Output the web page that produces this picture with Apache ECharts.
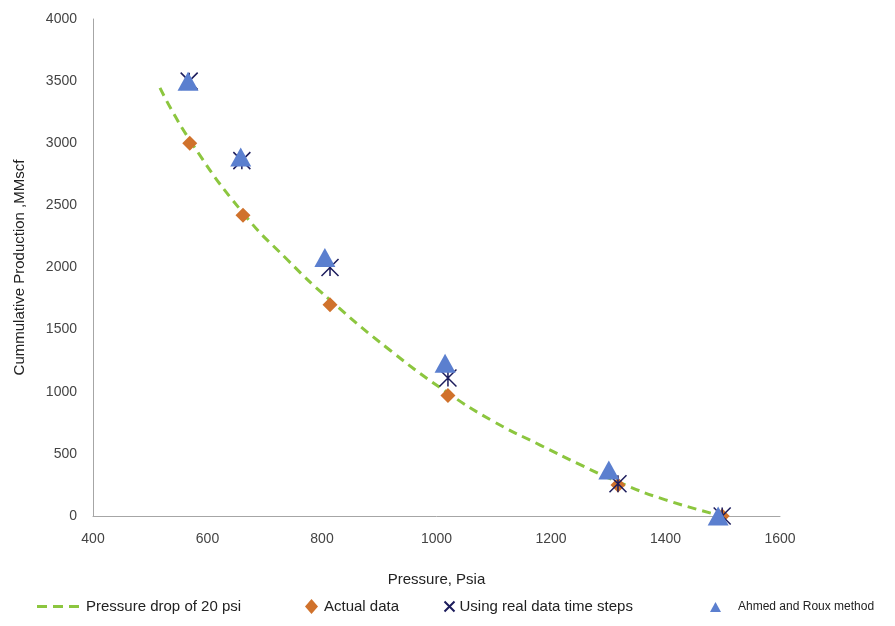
<!DOCTYPE html>
<html>
<head>
<meta charset="utf-8">
<script src="https://cdn.jsdelivr.net/npm/echarts@6/dist/echarts.min.js"></script>
<style>
  html, body { margin: 0; padding: 0; background: #fff; }
  #chart { width: 895px; height: 626px; }
</style>
</head>
<body>
<div id="chart"></div>
<script>
var myChart = echarts.init(document.getElementById('chart'));

// 曲线 pressure drop of 20 psi
var curveP = [517, 569, 662, 740, 814, 920, 1020, 1100, 1181, 1250, 1317, 1400, 1499];
var curveQ = [3445, 3026, 2439, 2060, 1738, 1330, 990, 760, 571, 415, 274, 130, 0];

// actual data
var actualP = [569, 662, 814, 1020, 1317, 1499];
var actualQ = [3000, 2420, 1700, 970, 250, 0];

// using real data time steps
var stepP = [568, 660, 814, 1020, 1317, 1499];
var stepQ = [3500, 2860, 2000, 1110, 260, 0];

// Ahmed and Roux
var ahmedP = [566, 658, 805, 1015, 1301, 1492];
var ahmedQ = [3500, 2890, 2080, 1230, 370, 0];

function pairs(xs, ys) {
    return xs.map(function (x, i) { return [x, ys[i]]; });
}

var fontName = 'Liberation Sans';
var starPath = 'path://M0,0L10,10M10,0L0,10M5,0L5,10';
var crossPath = 'path://M0,0L10,10M10,0L0,10';
var dashPath = 'path://M0,0h10v3h-10zM16,0h10v3h-10zM32,0h10v3h-10z';

function oneLegend(name, left, opts) {
    var l = {
        top: 599,
        left: left,
        padding: 0,
        itemGap: 0,
        textStyle: { fontFamily: fontName, fontSize: 15, color: '#222', padding: [0, 0, 0, 1] },
        data: [name]
    };
    for (var k in opts) l[k] = opts[k];
    return l;
}

var option = {
    animation: false,
    backgroundColor: '#fff',
    grid: { left: 93, right: 115, top: 19, bottom: 110 },
    legend: [
        oneLegend('Pressure drop of 20 psi', 37, { icon: dashPath, itemWidth: 44, itemHeight: 3 }),
        oneLegend('Actual data', 305, { icon: 'diamond', itemWidth: 13, itemHeight: 15 }),
        oneLegend('Using real data time steps', 442, { icon: crossPath, itemWidth: 10, itemHeight: 13,
            textStyle: { fontFamily: fontName, fontSize: 15, color: '#222', padding: [0, 0, 0, 0] } }),
        oneLegend('Ahmed and Roux method', 710, { icon: 'triangle', itemWidth: 11, itemHeight: 10, top: 601,
            textStyle: { fontFamily: fontName, fontSize: 12, color: '#222', padding: [0, 0, 0, 12] } })
    ],
    xAxis: {
        type: 'value',
        min: 400, max: 1600, interval: 200,
        name: 'Pressure, Psia',
        nameLocation: 'middle',
        nameGap: 56,
        nameTextStyle: { fontFamily: fontName, fontSize: 15, color: '#222' },
        axisLine: { lineStyle: { color: '#a6a6a6' } },
        axisTick: { show: false },
        splitLine: { show: false },
        axisLabel: { fontFamily: fontName, fontSize: 14, color: '#444', margin: 16,
            formatter: function (v) { return String(v); } }
    },
    yAxis: {
        type: 'value',
        min: 0, max: 4000, interval: 500,
        name: 'Cummulative Production ,MMscf',
        nameLocation: 'middle',
        nameGap: 66,
        nameTextStyle: { fontFamily: fontName, fontSize: 15, color: '#222' },
        axisLine: { show: true, lineStyle: { color: '#a6a6a6' } },
        axisTick: { show: false },
        splitLine: { show: false },
        axisLabel: { fontFamily: fontName, fontSize: 14, color: '#444', margin: 16,
            formatter: function (v) { return String(v); } }
    },
    series: [
        {
            name: 'Pressure drop of 20 psi',
            type: 'line',
            smooth: true,
            showSymbol: false,
            symbol: 'none',
            data: pairs(curveP, curveQ),
            lineStyle: { color: '#8cc63f', width: 3, type: [9, 6] },
            itemStyle: { color: '#8cc63f' },
            z: 1
        },
        {
            name: 'Actual data',
            type: 'scatter',
            symbol: 'diamond',
            symbolSize: 15,
            data: pairs(actualP, actualQ),
            itemStyle: { color: '#d0722c', opacity: 1 },
            z: 2
        },
        {
            name: 'Using real data time steps',
            type: 'scatter',
            symbol: starPath,
            symbolSize: 17,
            data: pairs(stepP, stepQ),
            itemStyle: { color: 'none', borderColor: '#1c1c5c', borderWidth: 1.5, opacity: 1 },
            z: 3
        },
        {
            name: 'Ahmed and Roux method',
            type: 'scatter',
            symbol: 'triangle',
            symbolSize: [21, 19],
            data: pairs(ahmedP, ahmedQ),
            itemStyle: { color: '#5b7fcf', opacity: 1 },
            z: 4
        }
    ]
};

myChart.setOption(option);
</script>
</body>
</html>
